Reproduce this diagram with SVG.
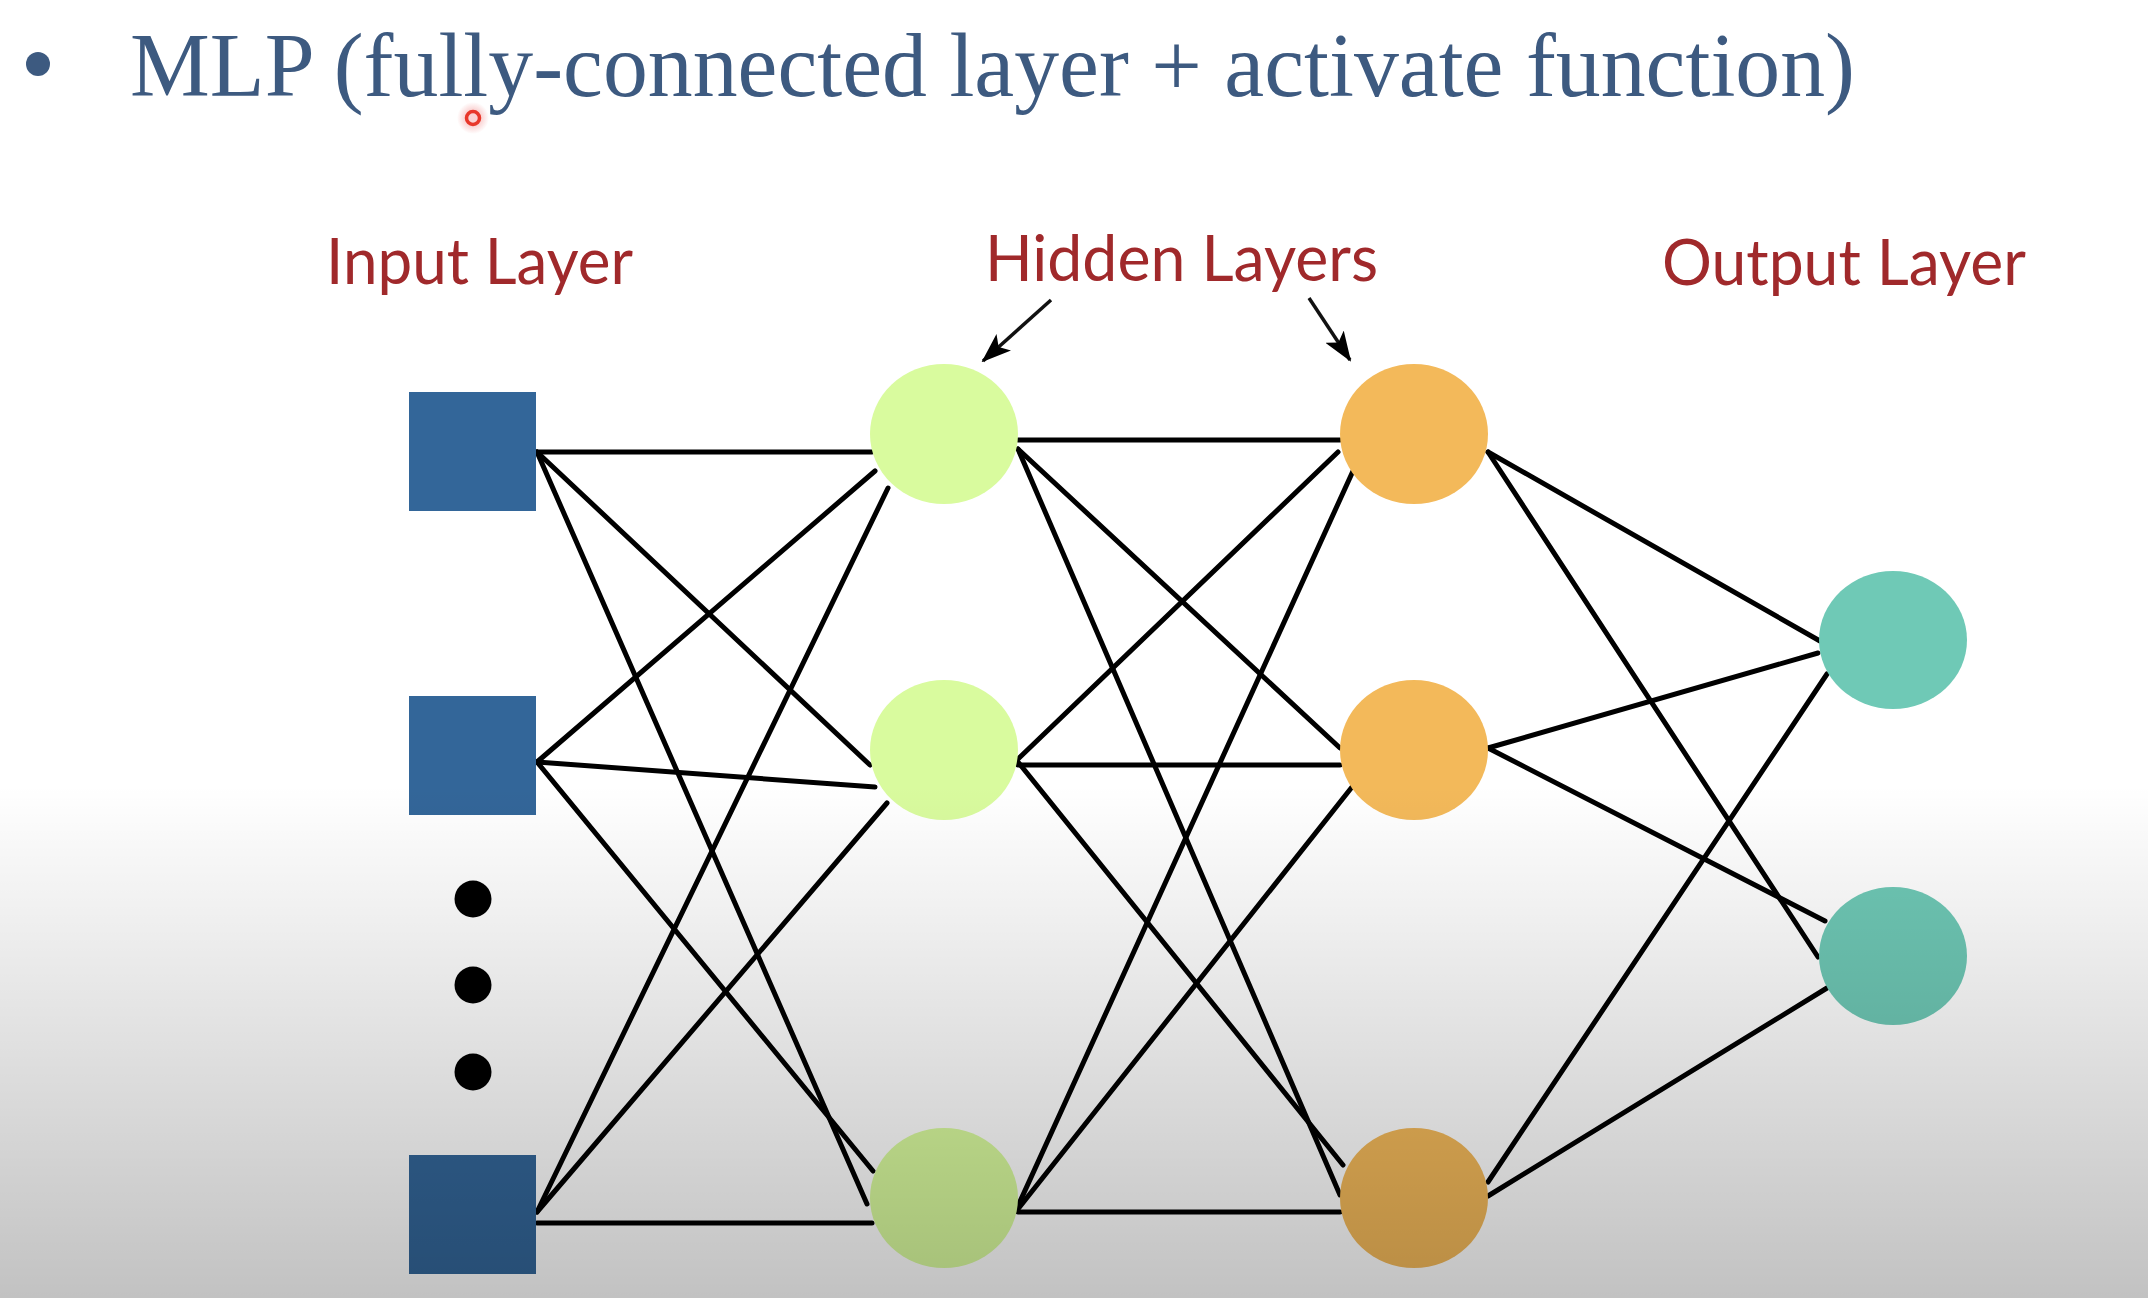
<svg xmlns="http://www.w3.org/2000/svg" width="2148" height="1298" viewBox="0 0 2148 1298">
<defs>
<style>
.title{font-family:"Liberation Serif","Times New Roman",serif;font-size:90px;fill:#3d5a80}
.lbl{font-family:Lato,"Open Sans",sans-serif;font-size:64px;fill:#a0292b}
.inp{fill:#336699}
.h1{fill:#d9fb9e}
.h2{fill:#f3b95a}
.out{fill:#6fc9b6}
.dot{fill:#000}
#connectors line{stroke:#000;stroke-width:5;stroke-linecap:round}
.arr{stroke:#111;stroke-width:3.5}
</style>
<marker id="ah" viewBox="0 0 30 22" refX="28" refY="11" markerWidth="30" markerHeight="22" markerUnits="userSpaceOnUse" orient="auto">
<path d="M0,0 L30,11 L0,22 L7,11 Z" fill="#000"/>
</marker>
<linearGradient id="shade" x1="0" y1="0" x2="0" y2="1">
<stop offset="0" stop-color="#000" stop-opacity="0"/>
<stop offset="1" stop-color="#000" stop-opacity="0.24"/>
</linearGradient>
<radialGradient id="glow">
<stop offset="0.5" stop-color="#f08080" stop-opacity="0.35"/>
<stop offset="1" stop-color="#f08080" stop-opacity="0"/>
</radialGradient>
</defs>
<rect x="0" y="0" width="2148" height="1298" fill="#fff"/>

<g id="title">
<circle cx="38" cy="64" r="12" fill="#3d5a80"/>
<text class="title" x="130" y="96" textLength="1725" lengthAdjust="spacingAndGlyphs">MLP (fully-connected layer + activate function)</text>
<circle cx="473" cy="118" r="16" fill="url(#glow)"/>
<circle cx="473" cy="118" r="6.5" fill="none" stroke="#e8372a" stroke-width="3.5"/>
</g>

<g id="labels">
<text class="lbl" x="326" y="284" textLength="307" lengthAdjust="spacingAndGlyphs">Input Layer</text>
<text class="lbl" x="985" y="281" textLength="393" lengthAdjust="spacingAndGlyphs">Hidden Layers</text>
<text class="lbl" x="1662" y="285" textLength="364" lengthAdjust="spacingAndGlyphs">Output Layer</text>
<line class="arr" x1="1051" y1="300" x2="983" y2="361" marker-end="url(#ah)"/>
<line class="arr" x1="1309" y1="298" x2="1350" y2="360" marker-end="url(#ah)"/>
</g>

<g id="connectors">
<!-- input to hidden1 -->
<line x1="537" y1="452" x2="872" y2="452"/>
<line x1="537" y1="452" x2="870" y2="765"/>
<line x1="537" y1="452" x2="867" y2="1204"/>
<line x1="537" y1="762" x2="875" y2="471"/>
<line x1="537" y1="762" x2="875" y2="787"/>
<line x1="537" y1="762" x2="873" y2="1171"/>
<line x1="537" y1="1212" x2="888" y2="488"/>
<line x1="537" y1="1212" x2="887" y2="803"/>
<line x1="537" y1="1223" x2="872" y2="1223"/>
<!-- hidden1 to hidden2 -->
<line x1="1018" y1="440" x2="1340" y2="440"/>
<line x1="1018" y1="449" x2="1340" y2="748"/>
<line x1="1018" y1="449" x2="1340" y2="1195"/>
<line x1="1018" y1="759" x2="1338" y2="452"/>
<line x1="1018" y1="765" x2="1340" y2="765"/>
<line x1="1018" y1="762" x2="1343" y2="1165"/>
<line x1="1018" y1="1206" x2="1353" y2="471"/>
<line x1="1018" y1="1209" x2="1352" y2="787"/>
<line x1="1018" y1="1212" x2="1340" y2="1212"/>
<!-- hidden2 to output -->
<line x1="1488" y1="452" x2="1820" y2="641"/>
<line x1="1488" y1="452" x2="1818" y2="957"/>
<line x1="1488" y1="748" x2="1818" y2="653"/>
<line x1="1488" y1="748" x2="1825" y2="921"/>
<line x1="1488" y1="1182" x2="1827" y2="674"/>
<line x1="1488" y1="1196" x2="1827" y2="988"/>
</g>

<g id="input1"><rect class="inp" x="409" y="392" width="127" height="119"/></g>
<g id="input2"><rect class="inp" x="409" y="696" width="127" height="119"/></g>
<g id="ellipsis">
<circle class="dot" cx="473" cy="899" r="18.5"/>
<circle class="dot" cx="473" cy="985" r="18.5"/>
<circle class="dot" cx="473" cy="1072" r="18.5"/>
</g>
<g id="input3"><rect class="inp" x="409" y="1155" width="127" height="119"/></g>

<g id="hidden1a"><ellipse class="h1" cx="944" cy="434" rx="74" ry="70"/></g>
<g id="hidden1b"><ellipse class="h1" cx="944" cy="750" rx="74" ry="70"/></g>
<g id="hidden1c"><ellipse class="h1" cx="944" cy="1198" rx="74" ry="70"/></g>

<g id="hidden2a"><ellipse class="h2" cx="1414" cy="434" rx="74" ry="70"/></g>
<g id="hidden2b"><ellipse class="h2" cx="1414" cy="750" rx="74" ry="70"/></g>
<g id="hidden2c"><ellipse class="h2" cx="1414" cy="1198" rx="74" ry="70"/></g>

<g id="output1"><ellipse class="out" cx="1893" cy="640" rx="74" ry="69"/></g>
<g id="output2"><ellipse class="out" cx="1893" cy="956" rx="74" ry="69"/></g>

<rect x="0" y="785" width="2148" height="513" fill="url(#shade)"/>
</svg>
